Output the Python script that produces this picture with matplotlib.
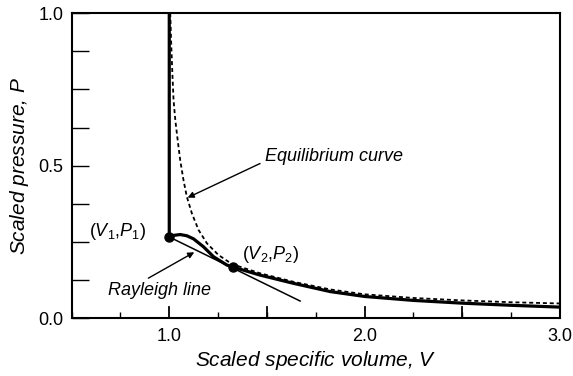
import matplotlib
matplotlib.use("Agg")
import matplotlib.pyplot as plt
from matplotlib.ticker import MultipleLocator

plt.rcParams['font.family'] = ['Liberation Sans', 'DejaVu Sans']
plt.rcParams['mathtext.fontset'] = 'custom'
plt.rcParams['mathtext.rm'] = 'Liberation Sans'
plt.rcParams['mathtext.it'] = 'Liberation Sans:italic'

# equilibrium (Hugoniot) curve, dashed
eq_v = [1.005, 1.010, 1.016, 1.022, 1.031, 1.043, 1.056, 1.073, 1.090, 1.116, 1.150,
        1.193, 1.252, 1.321, 1.465, 1.636, 1.824, 2.0, 2.25, 2.5, 2.75, 3.0]
eq_p = [1.0, 0.90, 0.80, 0.715, 0.649, 0.584, 0.518, 0.452, 0.398, 0.343, 0.289,
        0.245, 0.207, 0.177, 0.147, 0.119, 0.094, 0.078, 0.066, 0.058, 0.052, 0.048]

# reaction path: shock jump at V = 1 then the relaxation curve
path_v = [1.0, 1.0, 1.02, 1.056, 1.09, 1.124, 1.175, 1.227, 1.295, 1.328,
          1.465, 1.636, 1.824, 2.0, 2.25, 2.5, 2.75, 3.0]
path_p = [1.0, 0.266, 0.271, 0.274, 0.270, 0.260, 0.234, 0.201, 0.174, 0.167,
          0.141, 0.114, 0.087, 0.071, 0.058, 0.049, 0.042, 0.036]

# Rayleigh line end points
ray_v = [1.0, 1.67]
ray_p = [0.266, 0.056]

# states 1 and 2
state_v = [1.0, 1.328]
state_p = [0.266, 0.167]

fig = plt.figure(figsize=(5.73, 3.76), dpi=100)
ax = fig.add_axes([0.125, 0.154, 0.852, 0.811])

ax.plot(eq_v, eq_p, color='black', lw=1.3, linestyle=(0, (2.2, 1.6)))
ax.plot(path_v, path_p, color='black', lw=2.3, solid_joinstyle='round')
ax.plot(ray_v, ray_p, color='black', lw=1.1)
ax.plot(state_v, state_p, 'o', color='black', markersize=6.5)

ax.set_xlim(0.5, 3.0)
ax.set_ylim(0.0, 1.0)

ax.xaxis.set_major_locator(MultipleLocator(1.0))
ax.xaxis.set_minor_locator(MultipleLocator(0.25))
ax.yaxis.set_major_locator(MultipleLocator(0.5))
ax.yaxis.set_minor_locator(MultipleLocator(0.125))
ax.xaxis.set_major_formatter(plt.FormatStrFormatter('%.1f'))
ax.yaxis.set_major_formatter(plt.FormatStrFormatter('%.1f'))

# long ticks every 0.5 on x; labels only at whole numbers
for v in [0.5, 1.0, 1.5, 2.0, 2.5]:
    ax.plot([v, v], [0, 0.035], color='black', lw=1.3, clip_on=False)
ax.tick_params(axis='x', which='major', direction='in', length=0, pad=7, labelsize=13)
ax.tick_params(axis='x', which='minor', direction='in', length=4.5, width=1.0)
ax.tick_params(axis='y', which='both', direction='in', length=12, width=1.0, pad=6, labelsize=13)

for s in ax.spines.values():
    s.set_linewidth(1.5)

ax.set_xlabel('Scaled specific volume, $V$', fontsize=15, style='italic', labelpad=3)
ax.set_ylabel('Scaled pressure, $P$', fontsize=15, style='italic', labelpad=5)

ax.text(0.737, 0.283, r'$(V_1$,$P_1)$', fontsize=13, ha='center', va='center')
ax.text(1.52, 0.207, r'$(V_2$,$P_2)$', fontsize=13, ha='center', va='center')
ax.text(0.685, 0.091, 'Rayleigh line', fontsize=13, style='italic', ha='left', va='center')
ax.text(1.49, 0.531, 'Equilibrium curve', fontsize=13, style='italic', ha='left', va='center')

arrow = dict(arrowstyle='-|>', color='black', lw=1.0, mutation_scale=9, shrinkA=0, shrinkB=0)
ax.annotate('', xy=(1.128, 0.216), xytext=(0.893, 0.131), arrowprops=arrow)
ax.annotate('', xy=(1.094, 0.395), xytext=(1.465, 0.507), arrowprops=arrow)

fig.savefig('out.png', dpi=100)
